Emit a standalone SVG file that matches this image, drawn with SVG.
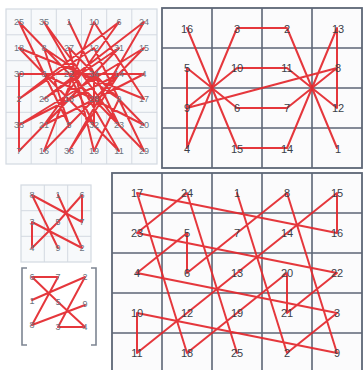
<svg xmlns="http://www.w3.org/2000/svg" width="363" height="370" viewBox="0 0 363 370">
<style>
.bg{fill:#ffffff}
.gl{stroke:#d3d9e1;stroke-width:1;fill:none}
.glbox{stroke:#d3d9e1;stroke-width:1.2;fill:#f7f9fb}
.gd{stroke:#5d6676;stroke-width:1.6;fill:none}
.gdbox{stroke:#5d6676;stroke-width:1.8;fill:#fbfbfc}
.tour{stroke:#e3262b;stroke-width:2;fill:none;stroke-linejoin:round;stroke-linecap:round;opacity:0.92}
.brk{stroke:#7d8592;stroke-width:1.6;fill:none}
text{font-family:"Liberation Sans",Arial,sans-serif;text-anchor:middle;dominant-baseline:central}
.s{font-size:9px;fill:#6b7380}
.l{font-size:11px;fill:#3a4049}
</style>
<rect class="bg" x="0" y="0" width="363" height="370"/>

<!-- grids -->
<g id="grid-6x6">
<rect class="glbox" x="6" y="9" width="151" height="155"/>
<path class="gl" d="M31.2,9V164M56.3,9V164M81.5,9V164M106.7,9V164M131.8,9V164M6,34.8H157M6,60.7H157M6,86.5H157M6,112.3H157M6,138.2H157"/>
</g>
<g id="grid-4x4">
<rect class="gdbox" x="162" y="8" width="200" height="160"/>
<path class="gd" d="M212,8V168M262,8V168M312,8V168M162,48H362M162,88H362M162,128H362"/>
</g>
<g id="grid-3x3">
<rect class="glbox" x="21" y="185" width="70" height="77"/>
<path class="gl" d="M44.3,185V262M67.7,185V262M21,210.7H91M21,236.3H91"/>
</g>
<g id="matrix-brackets">
<path class="brk" d="M27,268H22V345H27"/>
<path class="brk" d="M91,268H96V345H91"/>
</g>
<g id="grid-5x5">
<rect class="gdbox" x="112" y="173" width="250" height="200"/>
<path class="gd" d="M162,173V373M212,173V373M262,173V373M312,173V373M112,213H362M112,253H362M112,293H362M112,333H362"/>
</g>

<!-- connectors -->
<g id="connectors">
<polyline class="tour" points="69,22 119,125 44,22 119,151 19,48 144,99 94,22 44,151 144,48 19,125 119,74 69,151 144,22 44,99 119,48 19,151 19,74 144,74 44,125 119,22 19,99 94,48 144,151 19,22 69,125 44,48 119,99 94,151 69,48 144,125 44,74 94,99 69,74 94,125 94,74 69,99"/>
<polyline class="tour" points="337,148 287,28 237,28 187,148 187,68 237,108 287,108 337,68 187,108 237,68 287,68 337,108 337,28 287,148 237,148 187,28"/>
<polyline class="tour" points="58,195 82,248 32,222 32,248 58,222 82,195 82,222 32,195 58,248"/>
<polyline class="tour" points="32,300 85,277 58,327 85,327 58,302 32,277 58,277 32,325 85,305"/>
<polyline class="tour" points="237,193 287,353 337,313 137,273 187,233 187,273 237,233 287,193 337,353 137,313 137,353 187,313 237,273 287,233 337,193 337,233 137,193 187,353 237,313 287,273 287,313 337,273 137,233 187,193 237,353"/>
</g>

<!-- 6x6 labels -->
<g id="n6-r1"><text class="s" x="19" y="22">25</text><text class="s" x="44" y="22">35</text><text class="s" x="69" y="22">1</text><text class="s" x="94" y="22">10</text><text class="s" x="119" y="22">6</text><text class="s" x="144" y="22">24</text></g>
<g id="n6-r2"><text class="s" x="19" y="48">18</text><text class="s" x="44" y="48">8</text><text class="s" x="69" y="48">27</text><text class="s" x="94" y="48">12</text><text class="s" x="119" y="48">31</text><text class="s" x="144" y="48">15</text></g>
<g id="n6-r3"><text class="s" x="19" y="74">30</text><text class="s" x="44" y="74">3</text><text class="s" x="69" y="74">22</text><text class="s" x="94" y="74">34</text><text class="s" x="119" y="74">14</text><text class="s" x="144" y="74">4</text></g>
<g id="n6-r4"><text class="s" x="19" y="99">2</text><text class="s" x="44" y="99">26</text><text class="s" x="69" y="99">13</text><text class="s" x="94" y="99">28</text><text class="s" x="119" y="99">9</text><text class="s" x="144" y="99">17</text></g>
<g id="n6-r5"><text class="s" x="19" y="125">33</text><text class="s" x="44" y="125">21</text><text class="s" x="69" y="125">5</text><text class="s" x="94" y="125">32</text><text class="s" x="119" y="125">23</text><text class="s" x="144" y="125">20</text></g>
<g id="n6-r6"><text class="s" x="19" y="151">7</text><text class="s" x="44" y="151">16</text><text class="s" x="69" y="151">36</text><text class="s" x="94" y="151">19</text><text class="s" x="119" y="151">11</text><text class="s" x="144" y="151">29</text></g>

<!-- 4x4 labels -->
<g id="n4-r1"><text class="l" x="187" y="29">16</text><text class="l" x="237" y="29">3</text><text class="l" x="287" y="29">2</text><text class="l" x="338" y="29">13</text></g>
<g id="n4-r2"><text class="l" x="187" y="68">5</text><text class="l" x="237" y="68">10</text><text class="l" x="287" y="68">11</text><text class="l" x="338" y="68">8</text></g>
<g id="n4-r3"><text class="l" x="187" y="108">9</text><text class="l" x="237" y="108">6</text><text class="l" x="287" y="108">7</text><text class="l" x="338" y="108">12</text></g>
<g id="n4-r4"><text class="l" x="187" y="149">4</text><text class="l" x="237" y="149">15</text><text class="l" x="287" y="149">14</text><text class="l" x="338" y="149">1</text></g>

<!-- 3x3 labels -->
<g id="n3-r1"><text class="s" x="32" y="195">8</text><text class="s" x="58" y="195">1</text><text class="s" x="82" y="195">6</text></g>
<g id="n3-r2"><text class="s" x="32" y="222">3</text><text class="s" x="58" y="222">5</text><text class="s" x="82" y="222">7</text></g>
<g id="n3-r3"><text class="s" x="32" y="248">4</text><text class="s" x="58" y="248">9</text><text class="s" x="82" y="248">2</text></g>

<!-- matrix labels -->
<g id="m-r1"><text class="s" x="32" y="277">6</text><text class="s" x="58" y="277">7</text><text class="s" x="85" y="277">2</text></g>
<g id="m-r2"><text class="s" x="32" y="301">1</text><text class="s" x="58" y="302">5</text><text class="s" x="85" y="304">9</text></g>
<g id="m-r3"><text class="s" x="32" y="325">8</text><text class="s" x="58" y="327">3</text><text class="s" x="85" y="327">4</text></g>

<!-- 5x5 labels -->
<g id="n5-r1"><text class="l" x="137" y="193">17</text><text class="l" x="187" y="193">24</text><text class="l" x="237" y="193">1</text><text class="l" x="287" y="193">8</text><text class="l" x="337" y="193">15</text></g>
<g id="n5-r2"><text class="l" x="137" y="233">23</text><text class="l" x="187" y="233">5</text><text class="l" x="237" y="233">7</text><text class="l" x="287" y="233">14</text><text class="l" x="337" y="233">16</text></g>
<g id="n5-r3"><text class="l" x="137" y="273">4</text><text class="l" x="187" y="273">6</text><text class="l" x="237" y="273">13</text><text class="l" x="287" y="273">20</text><text class="l" x="337" y="273">22</text></g>
<g id="n5-r4"><text class="l" x="137" y="313">10</text><text class="l" x="187" y="313">12</text><text class="l" x="237" y="313">19</text><text class="l" x="287" y="313">21</text><text class="l" x="337" y="313">3</text></g>
<g id="n5-r5"><text class="l" x="137" y="353">11</text><text class="l" x="187" y="353">18</text><text class="l" x="237" y="353">25</text><text class="l" x="287" y="353">2</text><text class="l" x="337" y="353">9</text></g>
</svg>
